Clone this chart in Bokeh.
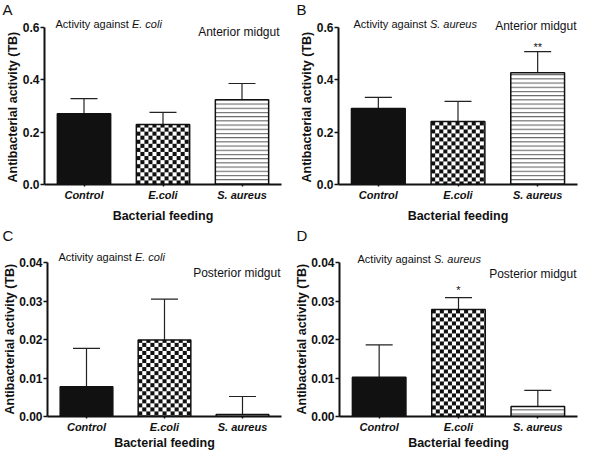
import numpy as np
from bokeh.plotting import figure
from bokeh.models import (ColumnDataSource, Range1d, FactorRange, FixedTicker,
                          PrintfTickFormatter, Whisker, TeeHead, Label, Title)
from bokeh.layouts import column, row
from bokeh.embed import file_html
from bokeh.resources import INLINE
from bokeh.core.properties import value

# ---------------- data ----------------
categories = ["Control", "E.coli", "S. aureus"]

a_values = [0.270, 0.229, 0.324]
a_errors = [0.058, 0.047, 0.062]
b_values = [0.290, 0.241, 0.427]
b_errors = [0.043, 0.077, 0.081]
c_values = [0.0077, 0.0199, 0.0005]
c_errors = [0.0100, 0.0106, 0.0047]
d_values = [0.0102, 0.0278, 0.0026]
d_errors = [0.0084, 0.0031, 0.0042]

b_marks = ["", "", "**"]
d_marks = ["", "*", ""]

top_ticks = [0.0, 0.2, 0.4, 0.6]
bottom_ticks = [0.0, 0.01, 0.02, 0.03, 0.04]

FONT = "Liberation Sans"
INK = "#111111"
BAR_W = 0.675
STRIP_H = 17
PANEL_H = 209


def checker_texture(w_px, h_px, sq=4):
    """RGBA checkerboard texture (4 px squares) used to fill one bar."""
    H = max(1, int(round(h_px)))
    W = max(1, int(round(w_px)))
    yy, xx = np.mgrid[0:H, 0:W]
    black = ((xx // sq) + ((H - 1 - yy) // sq)) % 2 == 0
    img = np.empty((H, W), dtype=np.uint32)
    v = img.view(dtype=np.uint8).reshape((H, W, 4))
    shade = np.where(black, 17, 255).astype(np.uint8)
    v[..., 0] = shade
    v[..., 1] = shade
    v[..., 2] = shade
    v[..., 3] = 255
    return img


def label(p, x, y, text, size, style="normal", align="left", baseline="middle"):
    p.add_layout(Label(x=x, y=y, x_units="canvas", y_units="canvas", text=text,
                       text_font=FONT, text_font_size=size, text_font_style=style,
                       text_align=align, text_baseline=baseline, text_color=INK))


def strip(letters):
    s = figure(width=584, height=STRIP_H, x_range=Range1d(0, 584),
               y_range=Range1d(0, STRIP_H),
               output_backend="svg", toolbar_location=None, tools="", min_border=0,
               x_axis_location=None, y_axis_location=None)
    s.outline_line_color = None
    s.title.visible = False
    for g in s.grid:
        g.visible = False
    for x, t in letters:
        label(s, x, STRIP_H / 2, t, "15px", baseline="middle")
    return s


def make_panel(vals, errs, marks, mark_offset, ymax, ticks, fmt, target, region,
               top_row, left_col, title_pos, region_pos):
    fig_w, fig_h = 292, PANEL_H
    left = 44 if left_col else 46
    right = 11 if left_col else 7
    bottom = 42 if top_row else 36
    ymax_px = 10 if top_row else 19         # canvas y of the axis top
    zero_px = fig_h - bottom                 # canvas y of zero
    y_end = ymax * zero_px / (zero_px - ymax_px)
    frame_w = fig_w - left - right
    px_per_x = frame_w / len(categories)
    px_per_y = (zero_px - ymax_px) / ymax

    p = figure(width=fig_w, height=fig_h,
               x_range=FactorRange(factors=categories, range_padding=0),
               y_range=Range1d(0, y_end),
               output_backend="svg", toolbar_location=None, tools="",
               min_border_left=left, min_border_right=right,
               min_border_top=0, min_border_bottom=bottom)
    p.outline_line_color = None
    p.xgrid.visible = False
    p.ygrid.visible = False
    p.title.visible = False

    # bars
    for i, cat in enumerate(categories):
        kw = dict(x=[cat], top=[vals[i]], width=BAR_W, line_color=INK, line_width=1.5)
        if i == 0:
            p.vbar(fill_color=INK, **kw)
        elif i == 1:
            tex = checker_texture(BAR_W * px_per_x, vals[i] * px_per_y)
            p.image_rgba(image=[tex], x=i + 0.5 - BAR_W / 2, y=0, dw=BAR_W, dh=vals[i])
            p.vbar(fill_color=None, **kw)
        else:
            p.vbar(fill_color="white", hatch_pattern="horizontal_line",
                   hatch_color="#555555", hatch_scale=4.2, hatch_weight=1, **kw)

    # error bars (upper only)
    src = ColumnDataSource(dict(x=categories, lower=vals,
                                upper=[v + e for v, e in zip(vals, errs)]))
    p.add_layout(Whisker(base="x", lower="lower", upper="upper", source=src,
                         dimension="height", line_color="#222222", line_width=1.2,
                         upper_head=TeeHead(size=27, line_color="#222222", line_width=1.2),
                         lower_head=None))

    # significance marks
    if marks is not None:
        mx = [c for c, m in zip(categories, marks) if m]
        my = [v + e for v, e, m in zip(vals, errs, marks) if m]
        mt = [m for m in marks if m]
        p.text(x=mx, y=my, text=mt, text_align="center", text_baseline="alphabetic",
               y_offset=mark_offset, text_font=value(FONT), text_font_size="11px",
               text_color=INK)

    # axes
    p.yaxis.ticker = FixedTicker(ticks=ticks)
    p.yaxis.formatter = PrintfTickFormatter(format=fmt)
    p.yaxis.bounds = (0, ymax)
    for ax in (p.xaxis[0], p.yaxis[0]):
        ax.axis_line_width = 2
        ax.axis_line_color = INK
        ax.major_tick_line_width = 1.5
        ax.major_tick_line_color = INK
        ax.major_tick_in = 0
        ax.minor_tick_line_color = None
        ax.major_label_text_font = FONT
        ax.major_label_text_color = INK
    p.yaxis.major_tick_out = 4
    p.yaxis.major_label_standoff = 1
    p.yaxis.major_label_text_font_size = "12px"
    p.yaxis.major_label_text_font_style = "bold"
    p.xaxis.major_tick_out = 2
    p.xaxis.major_label_standoff = 2
    p.xaxis.major_label_text_font_size = "11px"
    p.xaxis.major_label_text_font_style = "bold italic"
    p.xaxis.axis_label = "Bacterial feeding"
    p.xaxis.axis_label_text_font = FONT
    p.xaxis.axis_label_text_font_size = "12.5px"
    p.xaxis.axis_label_text_font_style = "bold"
    p.xaxis.axis_label_text_color = INK
    p.xaxis.axis_label_standoff = 5 if top_row else 0

    # y-axis title
    p.add_layout(Title(text="Antibacterial activity (TB)", align="left", offset=2,
                       standoff=0, text_font=FONT, text_font_size="12.5px",
                       text_font_style="bold", text_color=INK), "left")

    # panel title with italic organism name
    label(p, title_pos[0], title_pos[1], "Activity against ", "11px")
    label(p, title_pos[0] + 76.4, title_pos[1], target, "11px", style="italic")

    # region text
    label(p, region_pos[0], region_pos[1], region, "12px", align="right")
    return p


pA = make_panel(a_values, a_errors, None, 0, 0.6, top_ticks, "%.1f", "E. coli",
                "Anterior midgut", True, True, (55, 6.5), (279, 14))
pB = make_panel(b_values, b_errors, b_marks, -5, 0.6, top_ticks, "%.1f", "S. aureus",
                "Anterior midgut", True, False, (61, 6.5), (284, 8))
pC = make_panel(c_values, c_errors, None, 0, 0.04, bottom_ticks, "%.2f", "E. coli",
                "Posterior midgut", False, True, (58, 13), (280, 29))
pD = make_panel(d_values, d_errors, d_marks, -8, 0.04, bottom_ticks, "%.2f", "S. aureus",
                "Posterior midgut", False, False, (65, 15), (284, 30))

layout = column(strip([(2, "A"), (296, "B")]), row(pA, pB),
                strip([(2, "C"), (296, "D")]), row(pC, pD))

open("out.html", "w").write(file_html(layout, INLINE))
